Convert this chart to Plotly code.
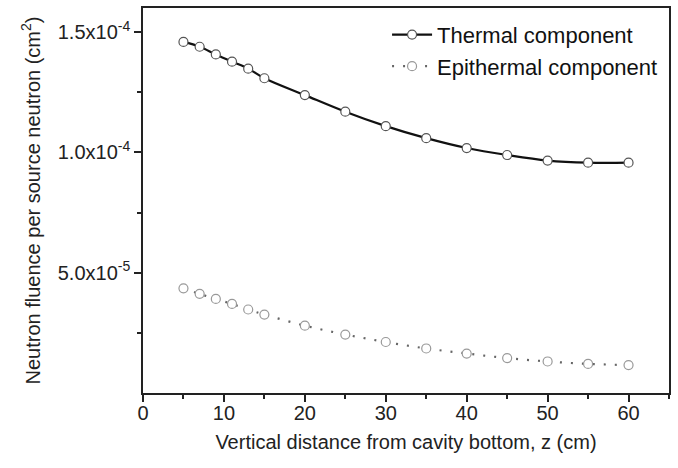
import plotly.graph_objects as go

z = [5, 7, 9, 11, 13, 15, 20, 25, 30, 35, 40, 45, 50, 55, 60]
thermal = [1.459e-4, 1.439e-4, 1.407e-4, 1.377e-4, 1.348e-4, 1.308e-4, 1.238e-4,
           1.169e-4, 1.109e-4, 1.059e-4, 1.018e-4, 0.989e-4, 0.966e-4, 0.957e-4, 0.957e-4]
epithermal = [4.35e-5, 4.12e-5, 3.91e-5, 3.70e-5, 3.47e-5, 3.26e-5, 2.80e-5,
              2.43e-5, 2.12e-5, 1.85e-5, 1.64e-5, 1.45e-5, 1.31e-5, 1.21e-5, 1.16e-5]
ytick_vals = [5e-5, 1e-4, 1.5e-4]
ytick_text = ["5.0x10<sup>-5</sup>", "1.0x10<sup>-4</sup>", "1.5x10<sup>-4</sup>"]
ytick_minor = [2.5e-5, 7.5e-5, 1.25e-4]

font = "Liberation Sans, Arial, sans-serif"

fig = go.Figure()
fig.add_trace(go.Scatter(
    x=z, y=thermal, name="Thermal component", mode="lines+markers",
    line=dict(color="#111111", width=2.2, shape="spline"),
    marker=dict(symbol="circle", size=9, color="white", line=dict(color="#555555", width=1.2)),
))
fig.add_trace(go.Scatter(
    x=z, y=epithermal, name="Epithermal component", mode="lines+markers",
    line=dict(color="#666666", width=2.2, dash="2px,9px", shape="spline"),
    marker=dict(symbol="circle", size=9, color="white", line=dict(color="#999999", width=1.2)),
))

axis_common = dict(showline=True, linecolor="#222222", linewidth=1.5, mirror=True,
                   ticks="outside", ticklen=7, tickwidth=1.5, tickcolor="#222222",
                   showgrid=False, zeroline=False,
                   tickfont=dict(family=font, size=20, color="#222222"))

fig.update_xaxes(range=[0, 65], dtick=10, tick0=0, ticklabelstandoff=-6,
                 minor=dict(dtick=5, ticks="outside", ticklen=4, tickwidth=1.5, tickcolor="#222222"),
                 title=dict(text="Vertical distance from cavity bottom, z (cm)",
                            font=dict(family=font, size=20, color="#222222"), standoff=12),
                 **axis_common)
fig.update_yaxes(range=[0, 1.6e-4], tickmode="array", tickvals=ytick_vals, ticktext=ytick_text,
                 minor=dict(tickvals=ytick_minor, ticks="outside", ticklen=4, tickwidth=1.5, tickcolor="#222222"),
                 title=dict(text="Neutron fluence per source neutron (cm<sup>2</sup>)",
                            font=dict(family=font, size=20, color="#222222"), standoff=12),
                 **axis_common)

fig.update_layout(
    width=678, height=468,
    margin=dict(l=143, r=9, t=6, b=75),
    paper_bgcolor="white", plot_bgcolor="white",
    font=dict(family=font, color="#222222"),
    legend=dict(x=0.464, y=0.985, xanchor="left", yanchor="top",
                bgcolor="rgba(0,0,0,0)", font=dict(family=font, size=22, color="#111111"),
                tracegroupgap=0, itemwidth=40),
)

fig.write_html("out.html")
